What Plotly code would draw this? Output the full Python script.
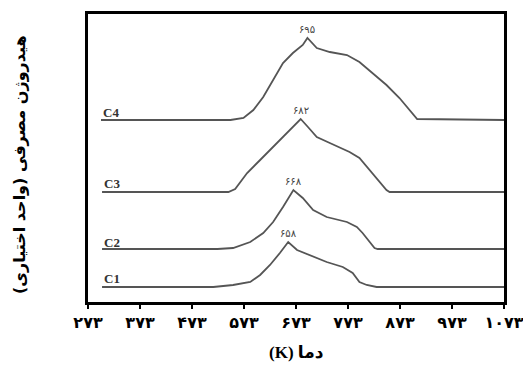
import plotly.graph_objects as go

# ---- data (temperature in K, signal in arbitrary units) ----
c1_temp = [300, 514, 552, 585, 604, 623, 642, 658, 675, 700, 732, 763, 782, 795, 809, 828, 1073]
c1_sig = [17, 17, 19, 22, 29, 39, 51, 62, 54, 49, 42, 37, 31, 22, 19, 17, 17]

c2_temp = [300, 522, 552, 585, 610, 629, 648, 661, 668, 686, 706, 732, 771, 790, 801, 824, 830, 1073]
c2_sig = [55, 55, 56, 62, 71, 82, 97, 109, 114, 106, 94, 87, 82, 77, 71, 56, 55, 55]

c3_temp = [300, 543, 556, 579, 604, 629, 656, 675, 682, 696, 713, 738, 776, 795, 815, 834, 847, 853, 1073]
c3_sig = [112, 112, 115, 131, 144, 157, 171, 181, 185, 177, 167, 161, 152, 146, 134, 122, 114, 112, 112]

c4_temp = [298, 547, 572, 591, 610, 629, 648, 667, 686, 695, 713, 738, 771, 795, 820, 847, 872, 891, 906, 1073]
c4_sig = [184, 184, 186, 194, 207, 224, 241, 251, 259, 266, 256, 252, 249, 242, 231, 219, 206, 194, 185, 184]

series_names = ["C1", "C2", "C3", "C4"]
peak_temps = [658, 668, 682, 695]
peak_labels = ["۶۵۸", "۶۶۸", "۶۸۲", "۶۹۵"]
name_label_y = [26, 62, 121, 192]

tick_vals = [273, 373, 473, 573, 673, 773, 873, 973, 1073]
tick_text = ["۲۷۳", "۳۷۳", "۴۷۳", "۵۷۳", "۶۷۳", "۷۷۳", "۸۷۳", "۹۷۳", "۱۰۷۳"]

x_title = "دما (K)"
y_title = "هیدروژن مصرفی (واحد اختیاری)"

RLE, PDF = "\u202b", "\u202c"

temps = [c1_temp, c2_temp, c3_temp, c4_temp]
sigs = [c1_sig, c2_sig, c3_sig, c4_sig]

fig = go.Figure()
for name, t, s in zip(series_names, temps, sigs):
    fig.add_trace(go.Scatter(x=t, y=s, mode="lines", name=name,
                             line=dict(color="#555555", width=1.8),
                             showlegend=False, hoverinfo="skip"))

annotations = []
for name, t, s, ly in zip(series_names, temps, sigs, name_label_y):
    annotations.append(dict(x=t[0], y=ly, xref="x", yref="y", text=name,
                            showarrow=False, xanchor="left", yanchor="middle",
                            font=dict(family="Liberation Serif", size=13, color="#333333", weight="bold")))
for pt, pl, t, s in zip(peak_temps, peak_labels, temps, sigs):
    pv = max(s)
    annotations.append(dict(x=pt, y=pv, xref="x", yref="y", text=pl,
                            showarrow=False, xanchor="center", yanchor="bottom", yshift=1,
                            font=dict(family="DejaVu Sans", size=10, color="#444444")))
annotations.append(dict(x=-0.166, y=0.479, xref="paper", yref="paper", text=RLE + y_title + PDF,
                        showarrow=False, textangle=-90, xanchor="center", yanchor="middle",
                        font=dict(family="DejaVu Sans", size=16, color="black", weight="bold")))
annotations.append(dict(x=0.5, y=-0.174, xref="paper", yref="paper", text=RLE + x_title + PDF,
                        showarrow=False, xanchor="center", yanchor="middle",
                        font=dict(family="Liberation Serif, DejaVu Sans", size=17, color="black", weight="bold")))

# The page body has a default 8px margin, so the figure is offset by 8px.
fig.update_layout(
    width=531, height=366,
    margin=dict(l=80, r=35, t=6, b=72),
    paper_bgcolor="white", plot_bgcolor="white",
    annotations=annotations,
    xaxis=dict(range=[273, 1073], tickvals=tick_vals, ticktext=tick_text,
               automargin=False,
               showgrid=False, zeroline=False, showline=True, mirror=True,
               linecolor="black", linewidth=3, ticks="outside", ticklen=4,
               tickwidth=2, tickcolor="black",
               tickfont=dict(family="DejaVu Sans", size=16, color="black", weight="bold")),
    yaxis=dict(range=[2, 290], showticklabels=False, showgrid=False, zeroline=False,
               automargin=False,
               showline=True, mirror=True, linecolor="black", linewidth=3, ticks=""),
)

fig.write_html("out.html")
